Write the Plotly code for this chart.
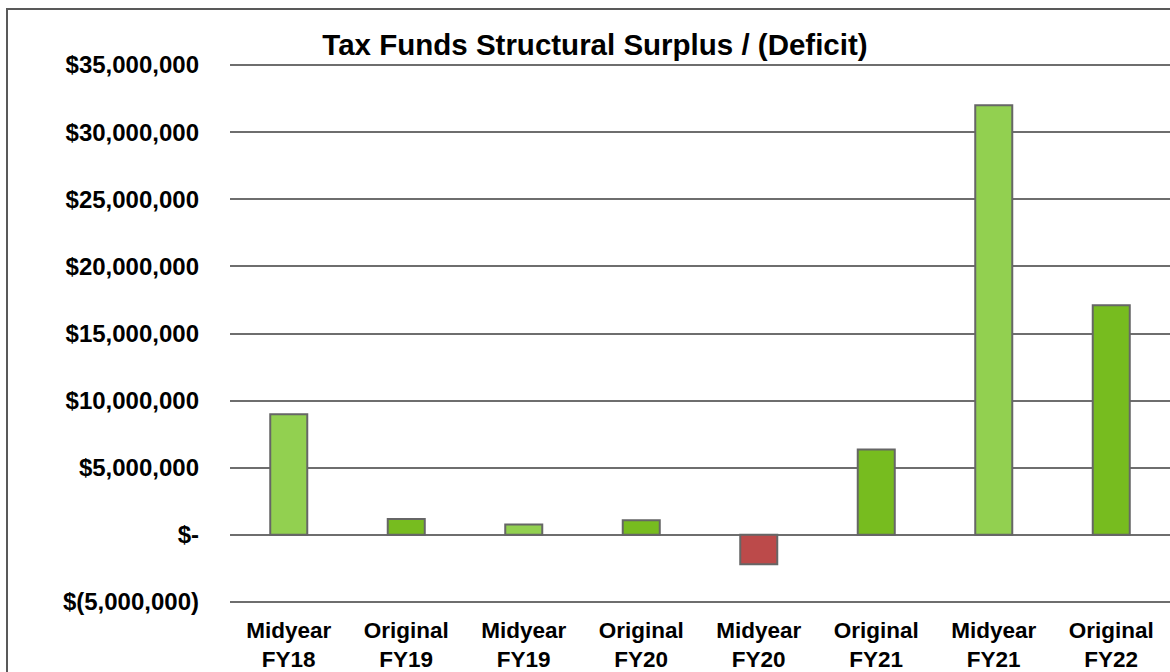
import plotly.graph_objects as go

# categories and values
categories = ['Midyear<br>FY18', 'Original<br>FY19', 'Midyear<br>FY19', 'Original<br>FY20',
              'Midyear<br>FY20', 'Original<br>FY21', 'Midyear<br>FY21', 'Original<br>FY22']
surplus = [8980000, 1180000, 770000, 1090000, -2180000, 6350000, 32000000, 17100000]

tick_values = [-5000000, 0, 5000000, 10000000, 15000000, 20000000, 25000000, 30000000, 35000000]
tick_labels = ['$(5,000,000)', '$-', '$5,000,000', '$10,000,000', '$15,000,000',
               '$20,000,000', '$25,000,000', '$30,000,000', '$35,000,000']

title_text = 'Tax Funds Structural Surplus / (Deficit)'

MIDYEAR_GREEN = '#92D050'
ORIGINAL_GREEN = '#77BC1F'
DEFICIT_RED = '#BC4A4A'
GRID = '#6E6E6E'


def bar_color(label, value):
    if value < 0:
        return DEFICIT_RED
    return MIDYEAR_GREEN if label.startswith('Midyear') else ORIGINAL_GREEN


colors = [bar_color(c, v) for c, v in zip(categories, surplus)]

fig = go.Figure(go.Bar(
    x=categories,
    y=surplus,
    width=0.315,
    marker=dict(color=colors, line=dict(color='#666666', width=2)),
    hoverinfo='x+y',
))

font_family = 'Liberation Sans, Arial, sans-serif'

# a small pad past +35M and -5M so plotly keeps the edge gridlines
pad = 150000
plot_top, plot_bottom = 63, 604

fig.update_layout(
    width=1170,
    height=672,
    margin=dict(l=230, r=0, t=plot_top, b=672 - plot_bottom),
    paper_bgcolor='white',
    plot_bgcolor='white',
    showlegend=False,
    font=dict(family=font_family, color='black'),
    title=dict(text=title_text, x=595 / 1170, xanchor='center',
               y=1 - 45 / 672, yanchor='middle', yref='container',
               font=dict(family=font_family, size=29.5, weight='bold', color='black')),
    # frame of the original chart, cut off on the right and bottom
    shapes=[dict(type='rect', xref='paper', yref='paper',
                 x0=(7 - 230) / 940, x1=1.02, y0=-0.3,
                 y1=1 + (plot_top - 9) / (plot_bottom - plot_top),
                 line=dict(color='#595959', width=2), fillcolor='rgba(0,0,0,0)', layer='below')],
)

fig.update_yaxes(
    range=[-5000000 - pad, 35000000 + pad],
    tickvals=tick_values,
    ticktext=tick_labels,
    showgrid=True, gridcolor=GRID, gridwidth=2,
    zeroline=True, zerolinecolor=GRID, zerolinewidth=2,
    showline=False, ticks='',
    automargin=False,
    ticklabelstandoff=30,
    tickfont=dict(family=font_family, size=24, weight='bold', color='black'),
)
fig.update_xaxes(
    showgrid=False, zeroline=False, showline=False, ticks='',
    automargin=False,
    ticklabelstandoff=10,
    tickfont=dict(family=font_family, size=22.5, weight='bold', color='black'),
)

# drop the default page margin so the figure sits at the window corner
fig.write_html('out.html', config={'displayModeBar': False},
               post_script="document.body.style.margin='0';document.body.style.overflow='hidden';")
